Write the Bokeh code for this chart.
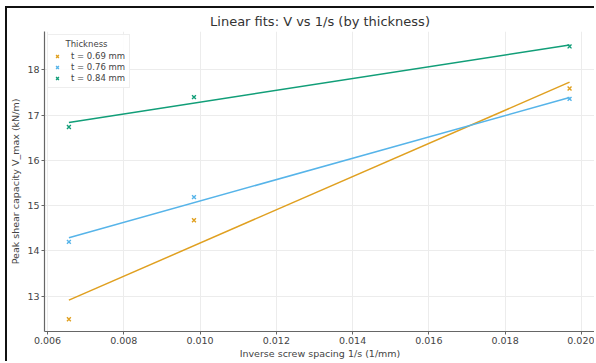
import numpy as np
from bokeh.plotting import figure
from bokeh.models import Range1d, FixedTicker, Legend, LegendItem, Title
from bokeh.embed import file_html
from bokeh.resources import INLINE

# Data
inv_spacing = [0.00656, 0.00984, 0.01969]
labels = ["t = 0.69 mm", "t = 0.76 mm", "t = 0.84 mm"]
v_069 = [12.49, 14.68, 17.59]
v_076 = [14.20, 15.19, 17.36]
v_084 = [16.74, 17.40, 18.52]
colors = ["#E0A020", "#56B4E9", "#119E78"]
x_ticks = [0.006, 0.008, 0.010, 0.012, 0.014, 0.016, 0.018, 0.020]
y_ticks = [13, 14, 15, 16, 17, 18]

FONT = "DejaVu Sans"
TXT = "#444444"

p = figure(width=589, height=355, output_backend="svg", toolbar_location=None,
           x_range=Range1d(0.00592, 0.02037), y_range=Range1d(12.22, 18.85),
           min_border_left=35, min_border_right=1, min_border_top=22, min_border_bottom=32)
p.styles = {"border-top": "2px solid #111111", "border-left": "2px solid #111111",
            "margin-left": "5px", "margin-top": "6px"}

p.title = Title(text="Linear fits: V vs 1/s (by thickness)", align="center",
                text_font=FONT, text_font_size="13px", text_font_style="normal",
                text_color="#333333", standoff=6)

p.outline_line_color = None
p.background_fill_color = "white"
p.border_fill_color = "white"

for ax in (p.xaxis[0], p.yaxis[0]):
    ax.axis_line_color = "#666666"
    ax.axis_line_width = 1.2
    ax.major_tick_line_color = "#666666"
    ax.major_tick_out = 3
    ax.major_tick_in = 0
    ax.minor_tick_line_color = None
    ax.major_label_text_font = FONT
    ax.major_label_text_font_size = "9.5px"
    ax.major_label_text_color = TXT
    ax.axis_label_text_font = FONT
    ax.axis_label_text_font_size = "9.5px"
    ax.axis_label_text_font_style = "normal"
    ax.axis_label_text_color = TXT
    ax.axis_label_standoff = 3
    ax.major_label_standoff = 2

p.xaxis[0].axis_label_standoff = 1
p.xaxis[0].ticker = FixedTicker(ticks=x_ticks)
p.yaxis[0].ticker = FixedTicker(ticks=y_ticks)
p.xaxis[0].major_label_overrides = {t: f"{t:.3f}" for t in x_ticks}
p.xaxis[0].axis_label = "Inverse screw spacing 1/s (1/mm)"
p.yaxis[0].axis_label = "Peak shear capacity V_max (kN/m)"

p.xgrid.ticker = FixedTicker(ticks=x_ticks)
p.ygrid.ticker = FixedTicker(ticks=y_ticks)
p.grid.grid_line_color = "#ececec"
p.grid.grid_line_width = 1

items = []
xs = np.array(inv_spacing)
for ys, c, lab in zip([v_069, v_076, v_084], colors, labels):
    ys = np.array(ys)
    m, b = np.polyfit(xs, ys, 1)
    xf = np.array([xs.min(), xs.max()])
    p.line(xf, m * xf + b, line_color=c, line_width=1.5)
    r = p.scatter(xs, ys, marker="x", size=5.5, line_color=c, line_width=1.4)
    items.append(LegendItem(label=lab, renderers=[r]))

legend = Legend(items=items, location="top_left", title="\u00a0" * 5 + "Thickness",
                title_text_font=FONT, title_text_font_size="8.5px", title_text_color=TXT,
                title_text_font_style="normal", title_standoff=2,
                label_text_font=FONT, label_text_font_size="8.5px", label_text_color=TXT,
                label_height=10, glyph_height=10, glyph_width=10, spacing=1,
                label_standoff=9, padding=4, margin=3,
                border_line_color="#dddddd", background_fill_alpha=0.9)
p.add_layout(legend, "center")

open("out.html", "w").write(file_html(p, INLINE))
